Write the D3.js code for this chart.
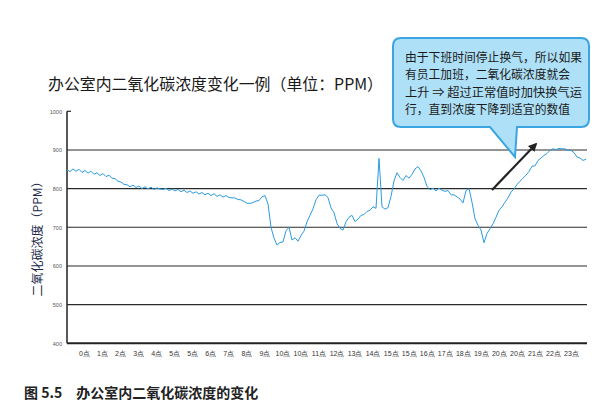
<!DOCTYPE html>
<html><head><meta charset="utf-8">
<script src="https://cdn.jsdelivr.net/npm/d3@7"></script>
<style>
html,body{margin:0;padding:0;background:#fff;}
svg{display:block;font-family:"Noto Sans CJK SC","Noto Sans",sans-serif;}
</style></head>
<body>
<svg id="chart" width="607" height="419"></svg>
<script>
// ---- data ----
const chartTitle = "办公室内二氧化碳浓度变化一例（单位：PPM）";
const yTitle = "二氧化碳浓度（PPM）";
const caption = "图 5.5　办公室内二氧化碳浓度的变化";
const calloutLines = [
  "由于下班时间停止换气，所以如果",
  "有员工加班，二氧化碳浓度就会",
  "上升 ⇒ 超过正常值时加快换气运",
  "行，直到浓度下降到适宜的数值"
];
const xLabels = ["0点","1点","2点","3点","4点","5点","5点","6点","7点","8点","9点","10点","10点","11点",
  "12点","13点","14点","15点","15点","16点","17点","18点","19点","20点","20点","21点","22点","23点"];
const yTicks = [400,500,600,700,800,900,1000];
const co2 = [
  848,844,851,845,850,842,847,840,845,837,
  841,834,839,831,835,827,826,819,817,811,
  810,805,809,803,807,800,805,799,804,798,
  802,799,798,801,795,799,794,798,792,796,
  790,794,788,792,786,790,784,788,782,787,
  780,784,778,782,777,776,776,772,771,767,
  762,762,764,768,769,779,782,760,700,672,
  654,661,662,691,700,667,673,664,679,690,
  714,731,748,771,783,783,784,777,750,738,
  710,697,693,714,726,731,715,721,731,733,
  741,744,753,749,878,753,747,751,780,820,
  841,829,821,834,827,837,851,857,846,829,
  806,797,801,794,801,796,793,795,784,784,
  779,773,763,795,800,765,722,705,693,660,
  684,696,709,726,744,753,765,776,791,799,
  811,819,827,835,844,858,859,873,879,886,
  891,899,903,901,904,903,903,899,899,893,
  882,879,873,876
];

// ---- layout ----
const svg = d3.select("#chart");
const L = 67, R = 587, T = 111.3, B = 343.3;

const y = d3.scaleLinear().domain([400,1000]).range([B,T]);
const xLine = d3.scaleLinear().domain([0, co2.length-1]).range([L, 586]);
const xLab = d3.scalePoint().domain(d3.range(xLabels.length)).range([84, 571]);

// title
svg.append("text").attr("x",48).attr("y",90)
  .attr("font-size",16).attr("fill","#1a1a1a")
  .attr("textLength",335).attr("lengthAdjust","spacingAndGlyphs")
  .text(chartTitle);

// gridlines
svg.append("g").selectAll("line").data(yTicks.filter(d=>d>400 && d<1000)).join("line")
  .attr("x1",L).attr("x2",R).attr("y1",d=>y(d)).attr("y2",d=>y(d))
  .attr("stroke","#2a2a2a").attr("stroke-width",1.1);

// y axis (labels only, small)
const yAxis = d3.axisLeft(y).tickValues(yTicks).tickSize(0).tickPadding(5).tickFormat(d3.format("d"));
const gy = svg.append("g").attr("transform",`translate(${L},0)`).call(yAxis);
gy.select(".domain").remove();
gy.selectAll("text").attr("font-size",5.5).attr("fill","#555").attr("font-family","Liberation Sans, sans-serif");

// frame: left + bottom
svg.append("line").attr("x1",L).attr("x2",L).attr("y1",T).attr("y2",B)
  .attr("stroke","#222").attr("stroke-width",1.5);
svg.append("line").attr("x1",L).attr("x2",L+4).attr("y1",T).attr("y2",T)
  .attr("stroke","#222").attr("stroke-width",1.2);
svg.append("line").attr("x1",L).attr("x2",R).attr("y1",B).attr("y2",B)
  .attr("stroke","#222").attr("stroke-width",2);

// x axis labels
const xAxis = d3.axisBottom(xLab).tickSize(0).tickPadding(8).tickFormat(i=>xLabels[i]);
const gx = svg.append("g").attr("transform",`translate(0,${B})`).call(xAxis);
gx.select(".domain").remove();
gx.selectAll("text").attr("font-size",7).attr("fill","#333");

// y title
svg.append("text").attr("transform","translate(42,236) rotate(-90)")
  .attr("text-anchor","middle").attr("font-size",12).attr("fill","#1c2b4a")
  .text(yTitle);

// line
svg.append("path").datum(co2)
  .attr("d", d3.line().x((d,i)=>xLine(i)).y(d=>y(d)))
  .attr("fill","none").attr("stroke","#2b9be0").attr("stroke-width",1)
  .attr("stroke-linejoin","round");

// arrow
const defs = svg.append("defs");
defs.append("marker").attr("id","ah").attr("viewBox","0 0 10 10")
  .attr("refX",8).attr("refY",5).attr("markerWidth",4).attr("markerHeight",4)
  .attr("orient","auto").append("path").attr("d","M0,0L10,5L0,10z").attr("fill","#222");
svg.append("line").attr("x1",492).attr("y1",190).attr("x2",536).attr("y2",144)
  .attr("stroke","#222").attr("stroke-width",2.2).attr("marker-end","url(#ah)");

// callout
const cg = svg.append("g");
cg.append("path")
  .attr("d","M403,38 H581 Q589,38 589,46 V119 Q589,127 581,127 H517 L515,157 L490,127 H401 Q393,127 393,119 V46 Q393,38 401,38 Z")
  .attr("fill","#aee0f7").attr("stroke","#3aa5e0").attr("stroke-width",2);
cg.selectAll("text").data(calloutLines).join("text")
  .attr("x",405).attr("y",(d,i)=>62+i*17.3)
  .attr("font-size",12).attr("fill","#1a1a1a")
  .attr("textLength",(d,i)=> i===0||i===2 ? 177 : 165).attr("lengthAdjust","spacingAndGlyphs")
  .text(d=>d);

// caption
svg.append("text").attr("x",24).attr("y",398)
  .attr("font-size",14).attr("font-weight",600).attr("fill","#222")
  .text(caption);
</script>
</body></html>
